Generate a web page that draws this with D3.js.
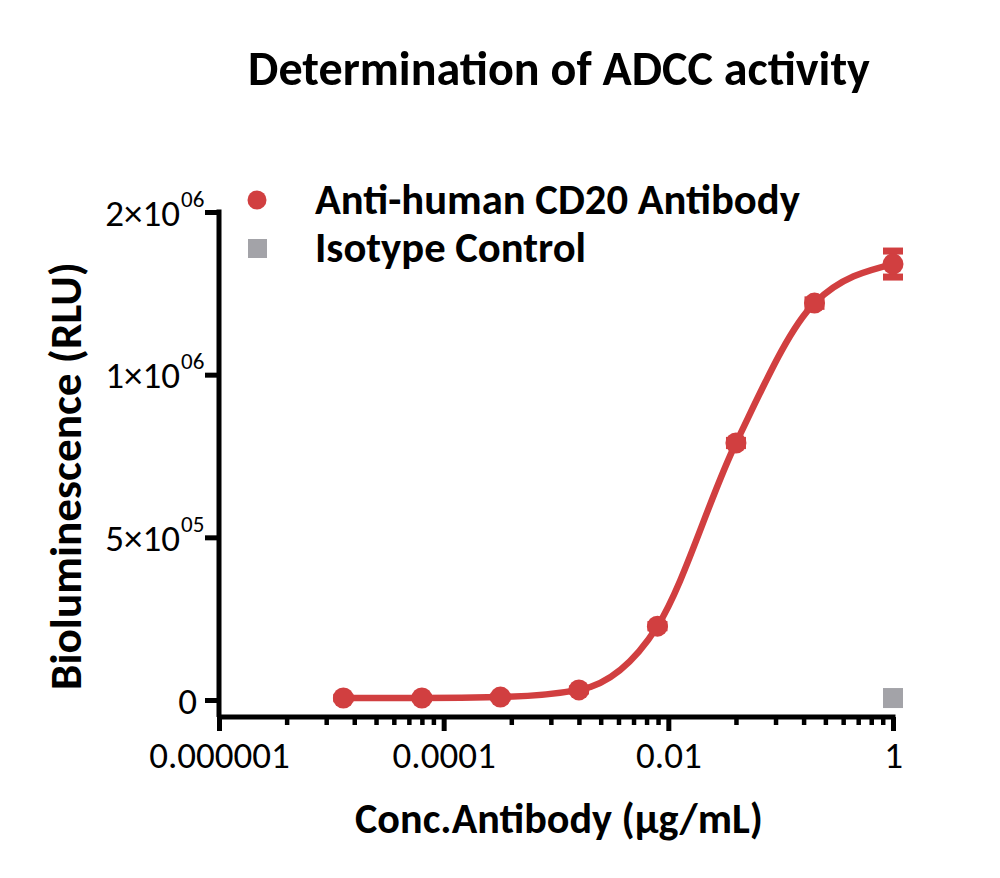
<!DOCTYPE html>
<html>
<head>
<meta charset="utf-8">
<script src="https://cdn.jsdelivr.net/npm/d3@7"></script>
<style>
body{margin:0;background:#fff}
</style>
</head>
<body>
<svg id="mySVG" width="1000" height="878"></svg>
<script>
//---chart data---
var Conc = [0.0000128, 0.000064, 0.00032, 0.0016, 0.008, 0.04, 0.2, 1]
var RluAnti = [6000, 6000, 9000, 31000, 227000, 790000, 1220000, 1340000]
var ErrAnti = [2000, 2000, 2000, 3000, 5000, 8000, 10000, 40000]
var IsoConc = [1]
var RluIso = [6000]

var XMajor = [0.000001, 0.0001, 0.01, 1]
var XLabels = ["0.000001", "0.0001", "0.01", "1"]
var XMinorMult = [4, 9, 16, 25, 36, 49, 64, 81] //---GraphPad spaces minors per 2-decade interval---
var YTicks = [0, 500000, 1000000, 1500000]
var YBase = ["0", "5\u00d710", "1\u00d710", "2\u00d710"]
var YExp = ["", "05", "06", "06"]

var RED = "#d13f40"
var GREY = "#a3a3a8"
var FONT = "Carlito, Calibri, Lato, 'Open Sans', sans-serif"

var MySVG = d3.select("#mySVG")

var X = d3.scaleLog().domain([0.000001, 1]).range([219, 893])
var Y = d3.scaleLinear().domain([0, 1500000]).range([700, 212])
var AxisY = 717

//---fit text width to the reference---
function fitWidth(sel, w)
{
    var len = sel.node().getComputedTextLength()
    var fs = parseFloat(sel.attr("font-size"))
    sel.attr("font-size", fs * w / len)
}

//---title---
var title = MySVG.append("text")
.attr("x", 559)
.attr("y", 85)
.attr("text-anchor", "middle")
.attr("font-family", FONT)
.attr("font-weight", "bold")
.attr("font-size", 40)
.text("Determination of ADCC activity")
fitWidth(title, 622)

//---y axis---
var yAxisG = MySVG.append("g")
.attr("transform", "translate(219,0)")
.call(d3.axisLeft(Y).tickValues(YTicks).tickSize(14).tickSizeOuter(0).tickFormat(""))
yAxisG.select(".domain").attr("stroke", "#000").attr("stroke-width", 5)
.attr("d", "M0," + (Y(1500000) - 2.5) + "V" + AxisY)
yAxisG.selectAll(".tick line").attr("stroke", "#000").attr("stroke-width", 5)

yAxisG.selectAll(".tick").each(function(d, i) {
    d3.select(this).append("text")
    .attr("x", YExp[i] ? -39 : -22)
    .attr("y", 0)
    .attr("dy", "0.36em")
    .attr("fill", "#000")
    .attr("text-anchor", "end")
    .attr("font-family", FONT)
    .attr("font-size", 37)
    .text(YBase[i])
    if (YExp[i])
    {
        d3.select(this).append("text")
        .attr("x", -38)
        .attr("y", -6)
        .attr("fill", "#000")
        .attr("text-anchor", "start")
        .attr("font-family", FONT)
        .attr("font-size", 23)
        .text(YExp[i])
    }
})

//---x axis, major---
var xAxisG = MySVG.append("g")
.attr("transform", "translate(0," + AxisY + ")")
.call(d3.axisBottom(X).tickValues(XMajor).tickSize(14).tickSizeOuter(0).tickFormat(function(d, i) { return XLabels[i] }))
xAxisG.select(".domain").attr("stroke", "#000").attr("stroke-width", 5)
.attr("d", "M" + X(0.000001) + ",0H" + (X(1) + 2.5))
xAxisG.selectAll(".tick line").attr("stroke", "#000").attr("stroke-width", 5)
xAxisG.selectAll(".tick text")
.attr("fill", "#000")
.attr("font-family", FONT)
.attr("font-size", 37)
.attr("y", 25)
.attr("dy", "0.71em")

//---x axis, minor---
var minorVals = []
XMajor.slice(0, 3).forEach(function(b) {
    XMinorMult.forEach(function(m) { minorVals.push(b * m) })
})
var xMinorG = MySVG.append("g")
.attr("transform", "translate(0," + AxisY + ")")
.call(d3.axisBottom(X).tickValues(minorVals).tickSize(8).tickSizeOuter(0).tickFormat(""))
xMinorG.select(".domain").remove()
xMinorG.selectAll(".tick line").attr("stroke", "#000").attr("stroke-width", 4.5)

//---axis titles---
var xTitle = MySVG.append("text")
.attr("x", 559)
.attr("y", 833)
.attr("text-anchor", "middle")
.attr("font-family", FONT)
.attr("font-weight", "bold")
.attr("font-size", 36)
.text("Conc.Antibody (\u00b5g/mL)")
fitWidth(xTitle, 408)

var yTitle = MySVG.append("text")
.attr("transform", "translate(81,476) rotate(-90)")
.attr("text-anchor", "middle")
.attr("font-family", FONT)
.attr("font-weight", "bold")
.attr("font-size", 36)
.text("Bioluminescence (RLU)")
fitWidth(yTitle, 428)

//---fitted curve through the points---
var pts = Conc.map(function(c, i) { return [X(c), Y(RluAnti[i])] })
MySVG.append("path")
.attr("d", d3.line().curve(d3.curveMonotoneX)(pts))
.attr("fill", "none")
.attr("stroke", RED)
.attr("stroke-width", 6.5)

//---error bars---
var errG = MySVG.append("g").attr("stroke", RED)
Conc.forEach(function(c, i) {
    var x = X(c)
    var y0 = Y(RluAnti[i] - ErrAnti[i]), y1 = Y(RluAnti[i] + ErrAnti[i])
    errG.append("line").attr("x1", x).attr("x2", x).attr("y1", y0).attr("y2", y1).attr("stroke-width", 6)
    errG.append("line").attr("x1", x - 10).attr("x2", x + 10).attr("y1", y0).attr("y2", y0).attr("stroke-width", 7)
    errG.append("line").attr("x1", x - 10).attr("x2", x + 10).attr("y1", y1).attr("y2", y1).attr("stroke-width", 7)
})

//---points---
MySVG.append("g").selectAll("circle")
.data(Conc)
.join("circle")
.attr("cx", function(d) { return X(d) })
.attr("cy", function(d, i) { return Y(RluAnti[i]) })
.attr("r", 10.5)
.attr("fill", RED)

MySVG.append("g").selectAll("rect")
.data(IsoConc)
.join("rect")
.attr("x", function(d) { return X(d) - 10 })
.attr("y", function(d, i) { return Y(RluIso[i]) - 10 })
.attr("width", 20)
.attr("height", 20)
.attr("fill", GREY)

//---legend---
var legG = MySVG.append("g")
legG.append("circle").attr("cx", 257).attr("cy", 200).attr("r", 9.5).attr("fill", RED)
legG.append("rect").attr("x", 248).attr("y", 239).attr("width", 19).attr("height", 19).attr("fill", GREY)
var leg1 = legG.append("text")
.attr("x", 315).attr("y", 214)
.attr("font-family", FONT).attr("font-weight", "bold").attr("font-size", 34)
.text("Anti-human CD20 Antibody")
fitWidth(leg1, 485)
legG.append("text")
.attr("x", 315).attr("y", 262)
.attr("font-family", FONT).attr("font-weight", "bold")
.attr("font-size", leg1.attr("font-size"))
.text("Isotype Control")
</script>
</body>
</html>
